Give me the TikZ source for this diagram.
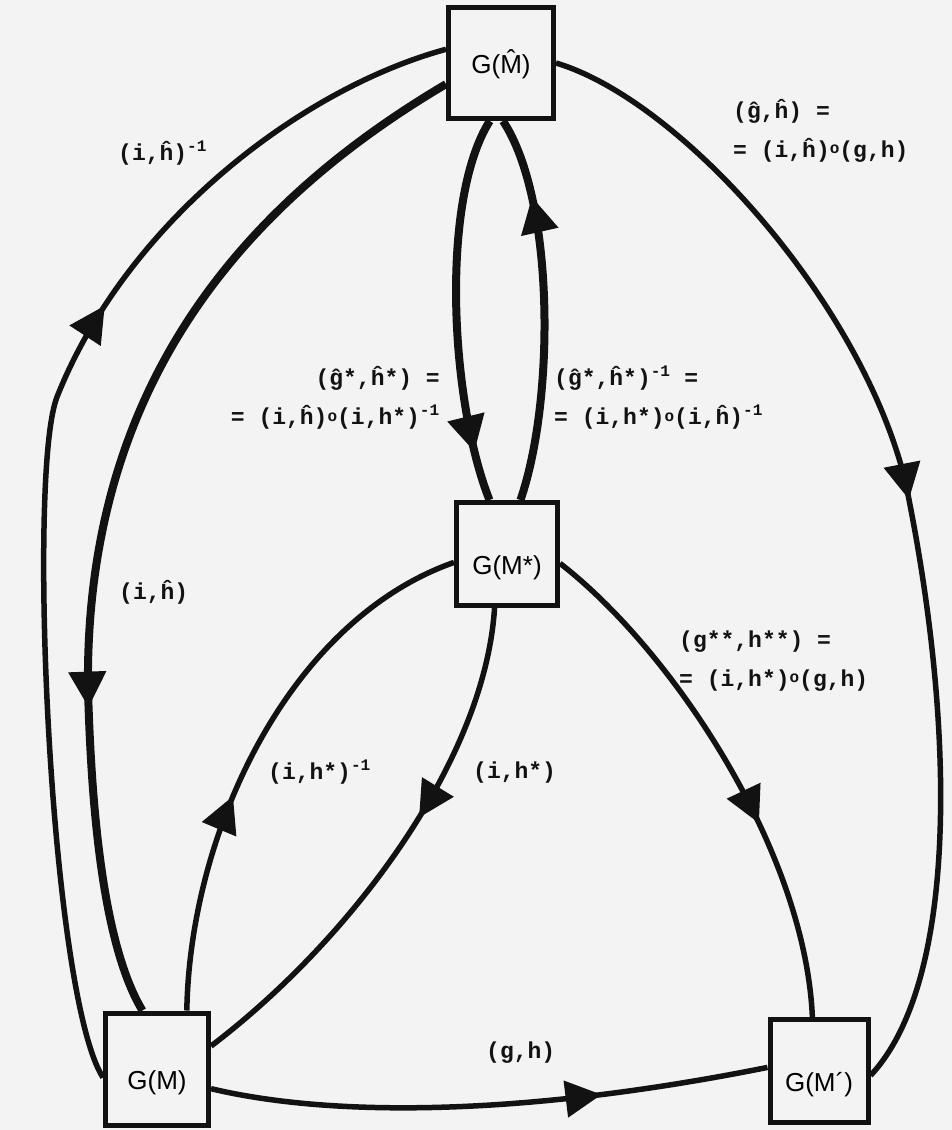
\documentclass[tikz,border=0pt]{standalone}
\usepackage{fontspec}
\usepackage{tikz}
\usetikzlibrary{
  arrows.meta,
  decorations.markings
}
\newfontfamily\boxfont{Liberation Sans}
\newfontfamily\labfont{Liberation Mono}
\definecolor{inkblack}{RGB}{18,18,18}
\definecolor{papergray}{RGB}{243,243,243}
\tikzset{
  functor/.style={draw=inkblack,line width=5pt,fill=papergray,
    minimum width=103pt,minimum height=106pt,inner sep=0pt,
    text height=46pt,text depth=6pt,
    font=\boxfont\fontsize{26}{30}\selectfont},
  morph/.style={draw=inkblack,line width=5.5pt},
  heavymorph/.style={draw=inkblack,line width=8pt},
  tipat/.style={postaction={decorate,decoration={markings,
    mark=at position #1 with {\arrow{Triangle[length=36pt,width=36pt]}}}}},
  lab/.style={font=\labfont\bfseries\fontsize{23}{39}\selectfont,
    inner sep=0pt,text=inkblack}
}
\newcommand{\comp}{\raisebox{0.3ex}{\fontsize{16}{16}\selectfont o}}
\newcommand{\inv}{\textsuperscript{-1}}

\begin{document}
\begin{tikzpicture}[x=1pt,y=-1pt]
  \useasboundingbox (0,0) rectangle (952,1130);
  \fill[papergray] (0,0) rectangle (952,1130);
  \node[functor,minimum width=105pt,minimum height=111pt,text height=26pt] (Mhat) at (501,63) {G(\^{M})};
  \node[functor,minimum width=101pt,minimum height=103pt] (Mstar) at (507,554) {G(M*)};
  \node[functor,minimum width=103pt,minimum height=112pt] (M) at (157,1069) {G(M)};
  \node[functor,minimum width=98pt,minimum height=103pt] (Mpr) at (819,1071) {G(M´)};
  \draw[morph,tipat=0.495] (Mhat.east) .. controls (680,100) and (860,300) .. (905,480)
    .. controls (955,720) and (960,980) .. (Mpr.-5);
  \draw[morph,tipat=0.645] (M.189) .. controls (50,995) and (27,474) .. (57,397)
    .. controls (126,223) and (300,89) .. (Mhat.166);
  \draw[heavymorph,tipat=0.71] (Mhat.201) .. controls (250,200) and (84,380) .. (88,690)
    .. controls (91,790) and (100,940) .. (M.104);
  \draw[heavymorph,tipat=0.87] (Mhat.-101) .. controls (440,200) and (450,400) .. (Mstar.108);
  \draw[heavymorph,tipat=0.79] (Mstar.76) .. controls (555,400) and (555,200) .. (Mhat.-88);
  \draw[morph,tipat=0.40] (M.63) .. controls (190,830) and (290,620) .. (Mstar.189);
  \draw[morph,tipat=0.42] (Mstar.-103) .. controls (485,760) and (352,939) .. (M.23);
  \draw[morph,tipat=0.62] (Mstar.-10) .. controls (672,650) and (805,850) .. (Mpr.97);
  \draw[morph,tipat=0.70] (M.-20) .. controls (330,1117) and (520,1117) .. (Mpr.176);
  \node[lab,anchor=west] (lhinv) at (118,153) {(i,\^{h})\inv};
  \node[lab,anchor=west,align=left] (lghat) at (733,131) {(\^{g},\^{h}) =\\= (i,\^{h})\comp(g,h)};
  \node[lab,anchor=east,align=right] (lgstar) at (440,398) {(\^{g}*,\^{h}*) =\\= (i,\^{h})\comp(i,h*)\inv};
  \node[lab,anchor=west,align=left] (lgstarinv) at (554,398) {(\^{g}*,\^{h}*)\inv\ =\\= (i,h*)\comp(i,\^{h})\inv};
  \node[lab,anchor=west] (lh) at (119,592) {(i,\^{h})};
  \node[lab,anchor=west,align=left] (lgg) at (679,661) {(g**,h**) =\\= (i,h*)\comp(g,h)};
  \node[lab,anchor=west] (lhsinv) at (268,772) {(i,h*)\inv};
  \node[lab,anchor=west] (lhs) at (473,773) {(i,h*)};
  \node[lab,anchor=west] (lgh) at (486,1053) {(g,h)};
\end{tikzpicture}
\end{document}
